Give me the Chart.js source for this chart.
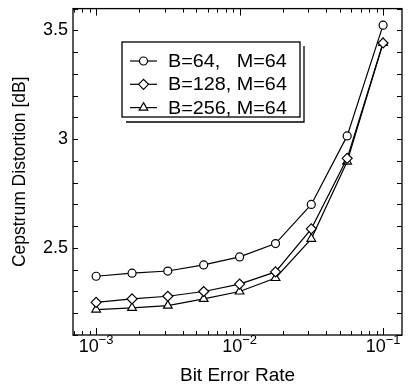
<!DOCTYPE html>
<html>
<head>
<meta charset="utf-8">
<script src="https://cdn.jsdelivr.net/npm/chart.js@4"></script>
<style>
html, body { margin: 0; padding: 0; background: #fff; }
#wrap { width: 411px; height: 387px; }
</style>
</head>
<body>
<div id="wrap"><canvas id="berChart" width="411" height="387"></canvas></div>
<script>
// values
const bitErrorRates = [0.001, 0.00178, 0.00316, 0.00562, 0.01, 0.0178, 0.0316, 0.0562, 0.1];
const distB64  = [2.370, 2.384, 2.394, 2.422, 2.459, 2.520, 2.700, 3.015, 3.524];
const distB128 = [2.250, 2.266, 2.278, 2.300, 2.334, 2.390, 2.588, 2.912, 3.442];
const distB256 = [2.217, 2.225, 2.235, 2.266, 2.300, 2.362, 2.542, 2.897, 3.442];
const seriesLabels = ['B=64,   M=64', 'B=128, M=64', 'B=256, M=64'];
const markerStyles = ['circle', 'rectRot', 'triangle'];
const yLabelValues = [2.5, 3, 3.5];
const xLabelExponents = [-3, -2, -1];

const FONT = '"Liberation Sans", Arial, Helvetica, sans-serif';

function makeSet(i, values) {
  return {
    label: seriesLabels[i],
    data: bitErrorRates.map((x, k) => ({ x: x, y: values[k] })),
    borderColor: '#000',
    borderWidth: 1.2,
    backgroundColor: '#fff',
    pointStyle: markerStyles[i],
    pointRadius: i === 0 ? 4 : 5,
    pointBorderWidth: 1.2,
    pointBackgroundColor: '#fff',
    pointBorderColor: '#000',
    tension: 0,
    fill: false
  };
}

// box, inward ticks, x labels with superscripts, and the inset legend
const framePlugin = {
  id: 'frame',
  afterDraw(chart) {
    const ctx = chart.ctx;
    const a = chart.chartArea;
    const xs = chart.scales.x;
    const ys = chart.scales.y;
    ctx.save();
    ctx.strokeStyle = '#000';
    ctx.lineWidth = 1.3;
    ctx.strokeRect(a.left, a.top, a.right - a.left, a.bottom - a.top);

    // y ticks every 0.1 on both sides
    ctx.lineWidth = 1;
    ys.ticks.forEach(t => {
      const py = Math.round(ys.getPixelForValue(t.value)) + 0.5;
      ctx.beginPath();
      ctx.moveTo(a.left, py); ctx.lineTo(a.left + 5, py);
      ctx.moveTo(a.right, py); ctx.lineTo(a.right - 5, py);
      ctx.stroke();
    });

    // x log ticks on top and bottom
    for (let d = -4; d <= 0; d++) {
      for (let m = 1; m <= 9; m++) {
        const v = m * Math.pow(10, d);
        if (v < xs.min || v > xs.max) continue;
        const px = Math.round(xs.getPixelForValue(v)) + 0.5;
        const len = m === 1 ? 7 : 4;
        ctx.beginPath();
        ctx.moveTo(px, a.bottom); ctx.lineTo(px, a.bottom - len);
        ctx.moveTo(px, a.top); ctx.lineTo(px, a.top + len);
        ctx.stroke();
      }
    }

    // x tick labels 10^n
    ctx.fillStyle = '#000';
    ctx.textBaseline = 'alphabetic';
    xLabelExponents.forEach(e => {
      const px = xs.getPixelForValue(Math.pow(10, e));
      ctx.font = '18px ' + FONT;
      const wBase = ctx.measureText('10').width;
      ctx.font = '13px ' + FONT;
      const sup = '\u2212' + Math.abs(e);
      const wSup = ctx.measureText(sup).width;
      const x0 = px - (wBase + wSup) / 2;
      ctx.font = '18px ' + FONT;
      ctx.textAlign = 'left';
      ctx.fillText('10', x0, 352);
      ctx.font = '13px ' + FONT;
      ctx.fillText(sup, x0 + wBase, 344);
    });

    // legend box with shadow
    const lx = 122, ly = 42, lw = 178, lh = 75;
    ctx.lineWidth = 1.3;
    ctx.strokeRect(lx, ly, lw, lh);
    ctx.beginPath();
    ctx.moveTo(lx + lw + 4, ly + 4); ctx.lineTo(lx + lw + 4, ly + lh + 5);
    ctx.lineTo(lx + 4, ly + lh + 5);
    ctx.stroke();
    ctx.textBaseline = 'middle';
    chart.data.datasets.forEach((ds, i) => {
      const cy = ly + 19 + i * 23.3;
      ctx.strokeStyle = '#000';
      ctx.lineWidth = 1.2;
      ctx.beginPath();
      ctx.moveTo(lx + 8, cy); ctx.lineTo(lx + 35, cy);
      ctx.stroke();
      ctx.fillStyle = '#fff';
      Chart.helpers.drawPoint(ctx, {
        pointStyle: ds.pointStyle, radius: ds.pointRadius, borderWidth: 1.2, rotation: 0
      }, lx + 21.5, cy);
      ctx.fillStyle = '#000';
      ctx.save();
      ctx.translate(lx + 46, cy + 1);
      ctx.scale(1.1, 1);
      ctx.font = '18px ' + FONT;
      ctx.fillText(ds.label, 0, 0);
      ctx.restore();
    });
    ctx.restore();
  }
};

const ctx = document.getElementById('berChart').getContext('2d');
new Chart(ctx, {
  type: 'line',
  data: {
    datasets: [makeSet(0, distB64), makeSet(1, distB128), makeSet(2, distB256)]
  },
  options: {
    responsive: false,
    animation: false,
    devicePixelRatio: 1,
    layout: { padding: { left: 0, top: 6, right: 9, bottom: 0 } },
    plugins: { legend: { display: false }, tooltip: { enabled: false } },
    scales: {
      x: {
        type: 'logarithmic',
        min: 0.00069,
        max: 0.1355,
        grid: { display: false, drawTicks: false },
        border: { display: false },
        ticks: { display: false },
        title: {
          display: true, text: 'Bit Error Rate', color: '#000',
          font: { family: FONT, size: 19 }, padding: { top: 0, bottom: 0 }
        },
        afterFit: s => { s.height = 52; }
      },
      y: {
        type: 'linear',
        min: 2.1,
        max: 3.6,
        grid: { display: false, drawTicks: false },
        border: { display: false },
        ticks: {
          stepSize: 0.1,
          autoSkip: false,
          color: '#000',
          padding: 5,
          font: { family: FONT, size: 18, lineHeight: 0.4 },
          callback: v => yLabelValues.some(t => Math.abs(t - v) < 1e-6) ? String(Math.round(v * 10) / 10) : ''
        },
        title: {
          display: true, text: 'Cepstrum Distortion [dB]', color: '#000',
          font: { family: FONT, size: 17.5 }, padding: { top: 10, bottom: 0 }
        },
        afterFit: s => { s.width = 73; }
      }
    }
  },
  plugins: [framePlugin]
});
</script>
</body>
</html>
